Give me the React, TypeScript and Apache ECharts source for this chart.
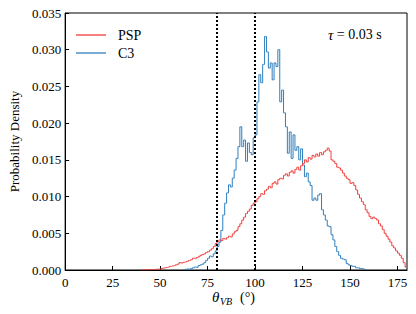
import React, { useEffect, useRef } from "react";
import * as echarts from "echarts";

// Histogram bins are 1 degree wide; arrays hold density ×10⁻³ per bin.
const pspStartDeg = 40;
const pspDensityE3 = [
  0.02, 0.03, 0.03, 0.04, 0.05, 0.06, 0.07, 0.09, 0.1, 0.12,
  0.2, 0.25, 0.3, 0.35, 0.4, 0.5, 0.55, 0.6, 0.7, 0.8,
  1.0, 0.95, 1.05, 1.1, 1.2, 1.3, 1.4, 1.6, 1.55, 1.7,
  1.8, 2.0, 2.1, 2.2, 2.4, 2.5, 2.7, 2.9, 3.2, 3.6,
  3.9, 4.1, 4.0, 4.3, 4.2, 4.4, 4.6, 4.5, 4.9, 5.2,
  5.4, 5.9, 6.3, 6.8, 7.2, 7.7, 8.0, 8.3, 8.8, 9.1,
  9.3, 9.7, 10.0, 10.4, 10.3, 10.8, 11.0, 11.4, 11.2, 11.8,
  12.0, 11.7, 12.3, 12.5, 12.4, 12.9, 13.1, 12.8, 13.3, 13.5,
  13.2, 13.7, 14.0, 13.6, 14.2, 14.5, 15.0, 14.7, 15.3, 15.1,
  15.6, 15.4, 15.8, 15.5, 16.0, 15.7, 16.1, 16.3, 16.6, 16.2,
  15.0, 14.8, 14.5, 14.0, 13.9, 13.6, 13.2, 12.8, 12.5, 12.3,
  11.8, 11.9, 11.5, 10.9, 10.3, 9.8, 9.3, 8.9, 8.2, 7.8,
  7.3, 7.0, 7.2, 7.0, 6.8, 6.3, 6.0, 5.5, 5.0, 4.6,
  4.2, 3.8, 3.3, 3.0, 2.6, 2.3, 2.0, 1.6, 1.0, 0.4,
];

const c3StartDeg = 62;
const c3DensityE3 = [
  0.05, 0.1, 0.15, 0.1, 0.2, 0.3, 0.4, 0.35,
  0.6, 0.7, 0.8, 1.0, 1.3, 1.6, 1.9, 1.8, 2.2, 2.6,
  3.2, 3.8, 5.4, 7.5, 9.1, 10.5, 11.6, 11.3, 12.5, 13.6,
  15.2, 16.8, 19.5, 16.8, 17.7, 14.8, 17.3, 16.0, 15.7, 18.0,
  18.4, 22.9, 26.6, 25.5, 28.0, 31.8, 29.7, 27.5, 28.2, 25.9,
  28.2, 27.7, 30.0, 22.9, 24.5, 21.4, 19.5, 15.9, 18.8, 15.2,
  18.4, 16.3, 16.8, 15.0, 16.5, 14.3, 12.7, 13.2, 12.0, 11.5,
  9.5, 9.8, 9.5, 10.2, 10.4, 8.2, 7.5, 6.8, 6.0, 5.9,
  4.8, 4.1, 3.2, 2.5, 2.0, 1.6, 1.5, 1.4, 0.9, 0.7,
  0.6, 0.5, 0.5, 0.3, 0.3, 0.2, 0.2, 0.1, 0.05,
];

const seriesNames = ["PSP", "C3"];
const seriesColors = ["#f23c3c", "#2f7fbd"];
const markerAngles = [80, 100];
const tauLabel = "0.03 s";

const FONT = "Liberation Serif";

function toPairs(start: number, vals: number[]) {
  return vals.map((v, i) => [start + i + 0.5, v / 1000]);
}

export default function App() {
  const ref = useRef<HTMLDivElement>(null);
  useEffect(() => {
    if (!ref.current) return;
    const chart = echarts.init(ref.current, undefined, { renderer: "svg" });
    chart.setOption({
      animation: false,
      backgroundColor: "#fff",
      textStyle: { fontFamily: FONT, color: "#000" },
      grid: {
        left: 61,
        top: 13,
        width: 346,
        height: 257,
        show: true,
        borderColor: "#000",
        borderWidth: 1,
        backgroundColor: "transparent",
      },
      legend: {
        orient: "vertical",
        left: 71,
        top: 23,
        icon: "rect",
        itemWidth: 30,
        itemHeight: 1.3,
        itemGap: 4,
        data: seriesNames,
        textStyle: { fontFamily: FONT, fontSize: 14, color: "#000", padding: [0, 0, 0, 7] },
      },
      xAxis: {
        type: "value",
        min: 0,
        max: 180,
        interval: 25,
        axisLine: { lineStyle: { color: "#000", width: 1 } },
        axisTick: { inside: true, length: 4, lineStyle: { color: "#000" } },
        axisLabel: { fontFamily: FONT, fontSize: 13, color: "#000", margin: 6, showMaxLabel: false },
        splitLine: { show: false },
      },
      yAxis: {
        type: "value",
        min: 0,
        max: 0.035,
        interval: 0.005,
        name: "Probability Density",
        nameLocation: "middle",
        nameGap: 40,
        nameTextStyle: { fontFamily: FONT, fontSize: 13, color: "#000" },
        axisLine: { show: true, lineStyle: { color: "#000", width: 1 } },
        axisTick: { show: true, inside: true, length: 4, lineStyle: { color: "#000" } },
        axisLabel: {
          fontFamily: FONT,
          fontSize: 13,
          color: "#000",
          margin: 4,
          formatter: (v: number) => v.toFixed(3),
        },
        splitLine: { show: false },
      },
      series: [
        {
          name: seriesNames[0],
          type: "line",
          step: "middle",
          symbol: "none",
          data: toPairs(pspStartDeg, pspDensityE3),
          lineStyle: { color: seriesColors[0], width: 1 },
          itemStyle: { color: seriesColors[0] },
          z: 3,
        },
        {
          name: seriesNames[1],
          type: "line",
          step: "middle",
          symbol: "none",
          data: toPairs(c3StartDeg, c3DensityE3),
          lineStyle: { color: seriesColors[1], width: 1 },
          itemStyle: { color: seriesColors[1] },
          z: 2,
          markLine: {
            silent: true,
            symbol: "none",
            label: { show: false },
            lineStyle: { color: "#000", type: [2, 2], width: 2 },
            data: markerAngles.map((a) => ({ xAxis: a })),
          },
        },
      ],
      graphic: [
        {
          type: "text",
          left: 328,
          top: 27,
          style: {
            text: "{i|τ} = " + tauLabel,
            fontFamily: FONT,
            fontSize: 14,
            fill: "#000",
            rich: { i: { fontStyle: "italic", fontFamily: FONT, fontSize: 15 } },
          },
        },
        {
          type: "text",
          x: 212,
          y: 297,
          style: {
            text: "θ",
            fontFamily: FONT,
            fontStyle: "italic",
            fontSize: 15,
            fill: "#000",
            verticalAlign: "middle",
          },
        },
        {
          type: "text",
          x: 220,
          y: 301,
          style: {
            text: "VB",
            fontFamily: FONT,
            fontStyle: "italic",
            fontSize: 10,
            fill: "#000",
            verticalAlign: "middle",
          },
        },
        {
          type: "text",
          x: 240,
          y: 297,
          style: {
            text: "(°)",
            fontFamily: FONT,
            fontSize: 14,
            fill: "#000",
            verticalAlign: "middle",
          },
        },
      ],
    });
    return () => chart.dispose();
  }, []);
  return (
    <div
      ref={ref}
      style={{ position: "fixed", left: 0, top: 0, width: 416, height: 314 }}
    />
  );
}
